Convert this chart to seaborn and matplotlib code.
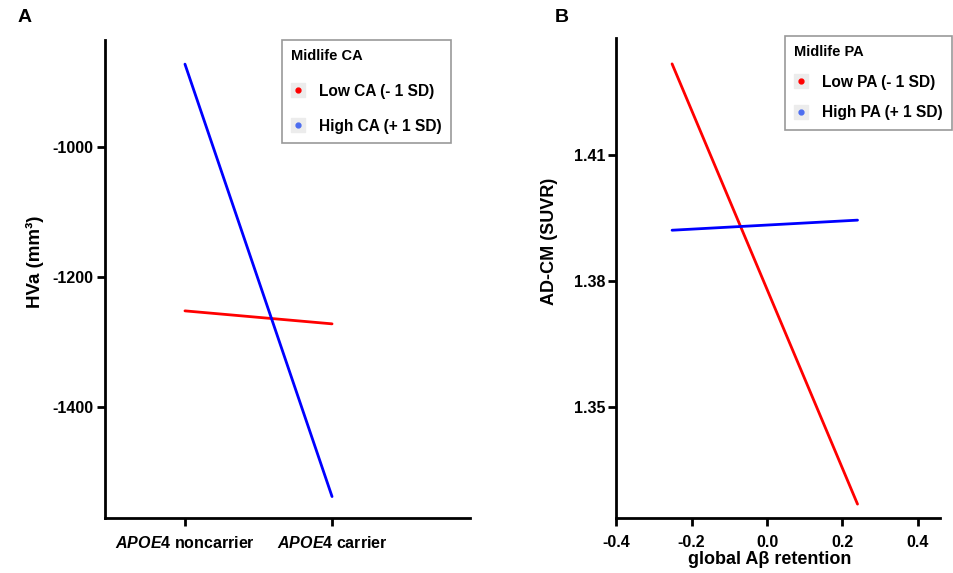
import numpy as np
import pandas as pd
import matplotlib
matplotlib.use("Agg")
import matplotlib.pyplot as plt
import seaborn as sns
from matplotlib.lines import Line2D
from matplotlib.legend_handler import HandlerTuple

sns.set_style("white")
plt.rcParams['font.family'] = ['Liberation Sans', 'DejaVu Sans']
plt.rcParams['mathtext.fontset'] = 'custom'
plt.rcParams['mathtext.it'] = 'Liberation Sans:italic:bold'
plt.rcParams['mathtext.rm'] = 'Liberation Sans:bold'
plt.rcParams['text.color'] = 'black'
plt.rcParams['axes.labelcolor'] = 'black'
plt.rcParams['xtick.color'] = 'black'
plt.rcParams['ytick.color'] = 'black'

# ---- Panel A data ----
a_categories = ["$APOE$4 noncarrier", "$APOE$4 carrier"]
a_groups = ["Low CA (- 1 SD)", "High CA (+ 1 SD)"]
a_low = [-1252, -1272]
a_high = [-872, -1538]
a_yticks = [-1000, -1200, -1400]

# ---- Panel B data ----
b_x = [-0.252, 0.24]
b_groups = ["Low PA (- 1 SD)", "High PA (+ 1 SD)"]
b_low = [1.4317, 1.3269]
b_high = [1.3921, 1.3945]
b_xticks = [-0.4, -0.2, 0.0, 0.2, 0.4]
b_yticks = [1.35, 1.38, 1.41]

line_colors = ["#ff0000", "#0000ff"]
legend_dot_colors = ["#ff0000", "#4d6ef0"]

dfA = pd.DataFrame({
    "pos": list(range(len(a_categories))) * 2,
    "val": a_low + a_high,
    "grp": [a_groups[0]] * len(a_low) + [a_groups[1]] * len(a_high),
})
dfB = pd.DataFrame({
    "x": b_x * 2,
    "val": b_low + b_high,
    "grp": [b_groups[0]] * len(b_low) + [b_groups[1]] * len(b_high),
})

fig = plt.figure(figsize=(9.54, 5.73), dpi=100)
axA = fig.add_axes([0.110, 0.096, 0.383, 0.834])
axB = fig.add_axes([0.646, 0.096, 0.339, 0.838])

sns.lineplot(data=dfA, x="pos", y="val", hue="grp", hue_order=a_groups,
             palette=line_colors, linewidth=2, ax=axA, legend=False, sort=False)
sns.lineplot(data=dfB, x="x", y="val", hue="grp", hue_order=b_groups,
             palette=line_colors, linewidth=2, ax=axB, legend=False, sort=False)

tick_fs = 11.5
for ax in (axA, axB):
    for s in ["top", "right"]:
        ax.spines[s].set_visible(False)
    for s in ["left", "bottom"]:
        ax.spines[s].set_linewidth(2)
        ax.spines[s].set_color("black")
    ax.tick_params(axis="both", direction="out", length=6, width=2,
                   bottom=True, left=True, color="black",
                   labelsize=tick_fs)
    ax.tick_params(axis="x", pad=6)
    ax.tick_params(axis="y", pad=2)
    ax.grid(False)

# Panel A axes
axA.set_xlim(-0.544, 1.94)
axA.set_ylim(-1571, -835)
axA.set_xticks(range(len(a_categories)))
axA.set_xticklabels(a_categories, fontweight="bold", fontsize=tick_fs)
axA.set_yticks(a_yticks)
axA.set_yticklabels([str(v) for v in a_yticks], fontweight="bold", fontsize=tick_fs)
axA.set_xlabel("")
axA.set_ylabel("HVa (mm³)", fontweight="bold", fontsize=13.5)
axA.yaxis.set_label_coords(-0.168, 0.536)

# Panel B axes
axB.set_xlim(-0.4, 0.458)
axB.set_ylim(1.3236, 1.4379)
axB.set_xticks(b_xticks)
axB.set_xticklabels([f"{v:.1f}" for v in b_xticks], fontweight="bold", fontsize=tick_fs)
axB.set_yticks(b_yticks)
axB.set_yticklabels([f"{v:.2f}" for v in b_yticks], fontweight="bold", fontsize=tick_fs)
axB.set_xlabel("global Aβ retention", fontweight="bold", fontsize=13)
axB.xaxis.set_label_coords(0.475, -0.068)
axB.set_ylabel("AD-CM (SUVR)", fontweight="bold", fontsize=13)
axB.yaxis.set_label_coords(-0.180, 0.577)

def make_legend(ax, labels, title, anchor, spacing):
    handles = []
    for c in legend_dot_colors:
        bg = Line2D([], [], marker="s", ms=10, color="#ececec", ls="")
        dot = Line2D([], [], marker="o", ms=3.5, color=c, ls="")
        handles.append((bg, dot))
    leg = ax.legend(handles, labels, title=title, loc="upper left",
                    bbox_to_anchor=anchor, frameon=True, fancybox=False,
                    edgecolor="#999999", framealpha=1,
                    handler_map={tuple: HandlerTuple(ndivide=1, pad=0)},
                    prop={"weight": "bold", "size": 11.2},
                    title_fontproperties={"weight": "bold", "size": 10.5},
                    alignment="left", handlelength=0.8, handletextpad=1.0,
                    labelspacing=spacing, borderpad=0.6, borderaxespad=0)
    leg.get_frame().set_linewidth(1.2)
    return leg

make_legend(axA, a_groups, "Midlife CA", (0.485, 1.0), 1.3)
make_legend(axB, b_groups, "Midlife PA", (0.522, 1.004), 1.0)

fig.text(18 / 954, 1 - 18 / 573, "A", fontsize=14, fontweight="bold", va="center", ha="left")
fig.text(555 / 954, 1 - 18 / 573, "B", fontsize=14, fontweight="bold", va="center", ha="left")

fig.savefig("out.png", dpi=100)
